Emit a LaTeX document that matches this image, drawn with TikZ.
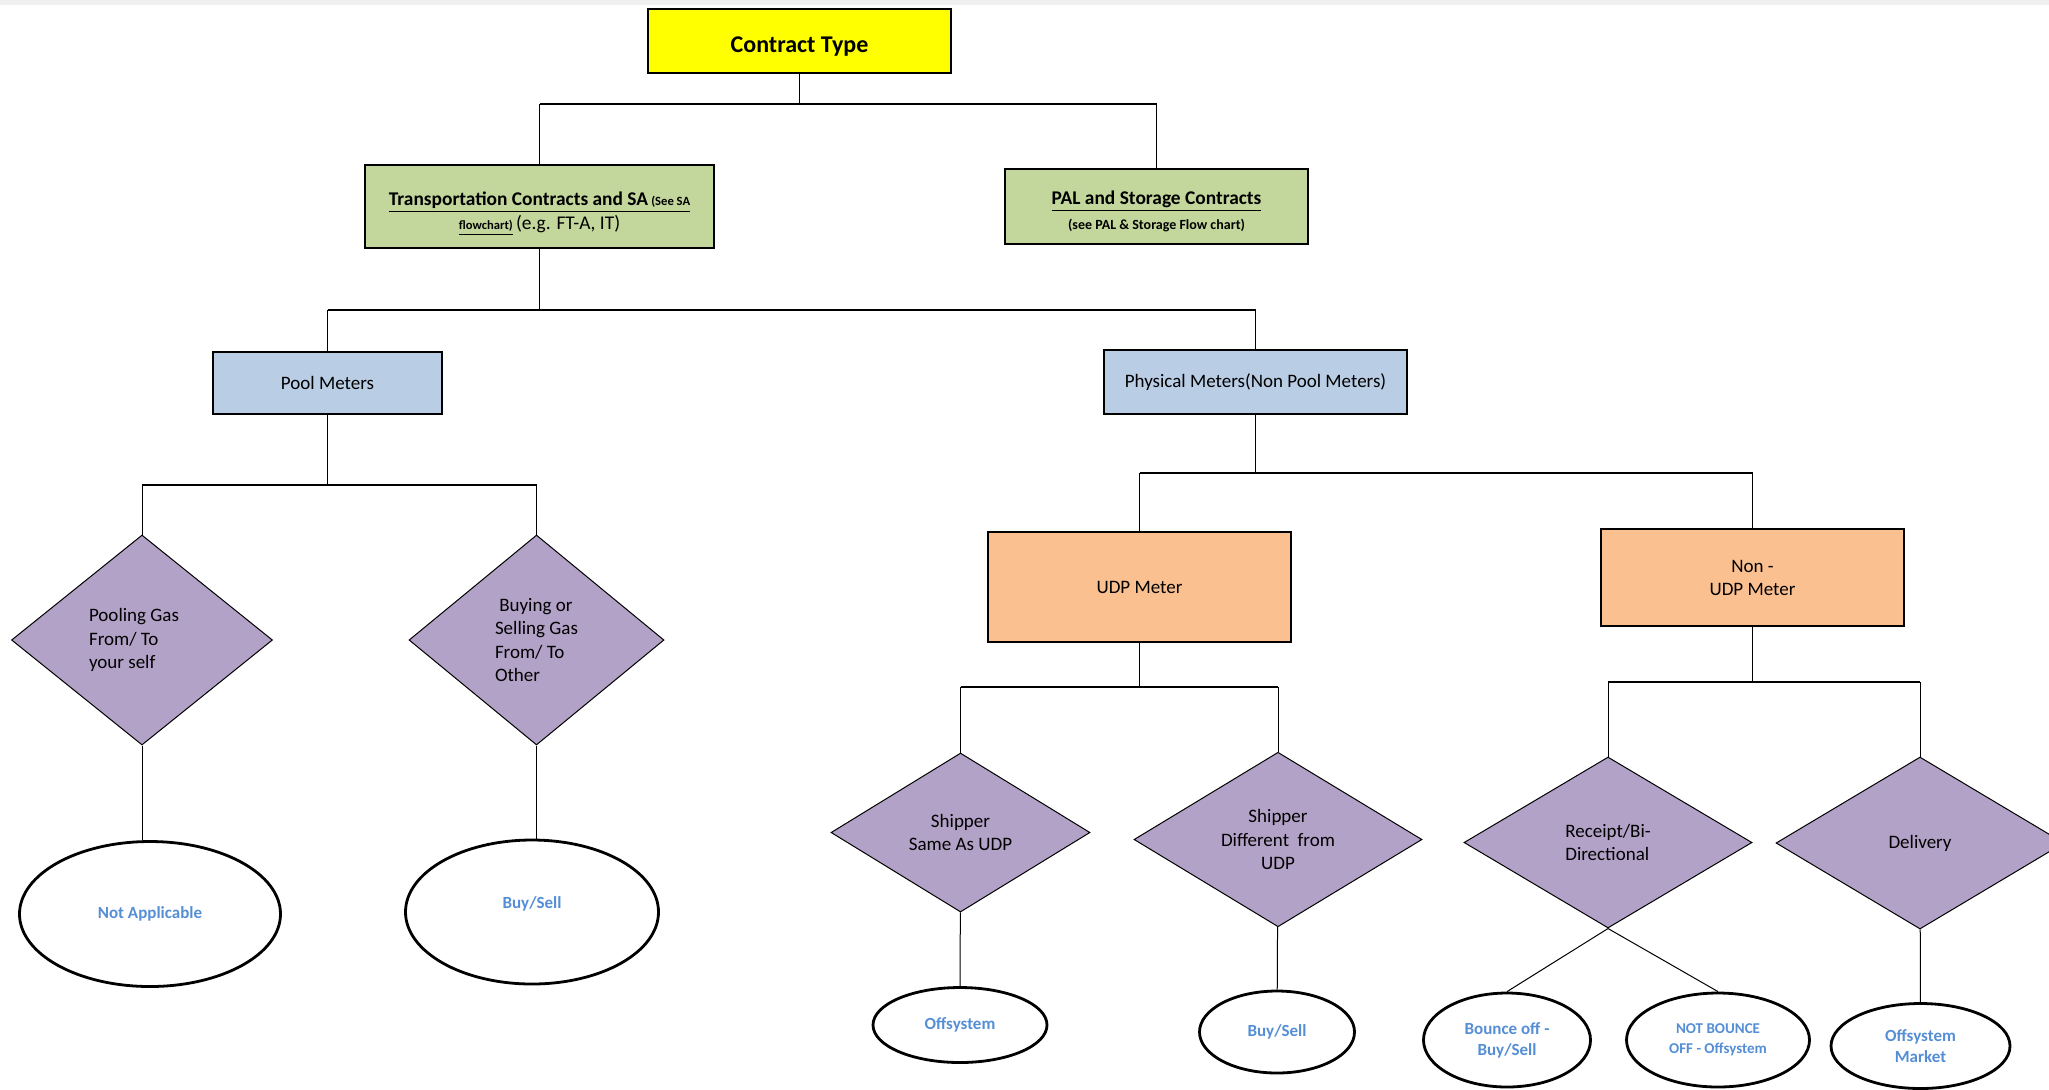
\documentclass[tikz,border=0pt]{standalone}
\usepackage{fontspec}
\setmainfont{Carlito}
\usepackage{xcolor}
\usetikzlibrary{shapes.geometric}
\definecolor{ctyellow}{RGB}{255,255,0}
\definecolor{ctgreen}{RGB}{195,214,155}
\definecolor{ctblue}{RGB}{185,205,229}
\definecolor{ctorange}{RGB}{250,192,144}
\definecolor{ctpurple}{RGB}{179,162,199}
\definecolor{cttext}{RGB}{85,142,213}

\begin{document}
\begin{tikzpicture}[x=0.5pt,y=-0.5pt,
 box/.style={draw,line width=0.6pt,inner sep=2pt,align=center,font=\fontsize{9.5}{11.5}\selectfont},
 choice/.style={diamond,draw,fill=ctpurple,line width=0.5pt,inner sep=0pt,align=center,font=\fontsize{9.5}{11.8}\selectfont},
 result/.style={ellipse,draw,line width=1.4pt,inner sep=0pt,align=center,text=cttext,font=\fontsize{8.5}{10.5}\selectfont\bfseries},
 link/.style={line width=0.5pt},
 bus/.style={line width=0.9pt}]
 \useasboundingbox (0,0) rectangle (2049,1089);
 \clip (0,0) rectangle (2049,1089);
 \fill[black!6] (0,0) rectangle (2049,5);

 \node[box,fill=ctyellow,minimum width=151.5pt,minimum height=32pt,font=\fontsize{12}{14}\selectfont\bfseries] (ct) at (799.5,41) {\rule{0pt}{13pt}Contract Type};
 \node[box,fill=ctgreen,minimum width=174.5pt,minimum height=41.5pt,font=\fontsize{9.7}{12}\selectfont] (tr) at (539.5,206.5)
  {\rule{0pt}{14pt}\underline{\textbf{Transportation Contracts and SA}\,{\fontsize{6.3}{7}\selectfont\textbf{(See SA}}}\\
   \underline{{\fontsize{6.3}{7}\selectfont\textbf{flowchart)}}}\,(e.g. FT-A, IT)};
 \node[box,fill=ctgreen,minimum width=151.5pt,minimum height=37.5pt,font=\fontsize{9.7}{12.5}\selectfont] (pal) at (1156.5,206.5)
  {\rule{0pt}{11.5pt}\underline{\textbf{PAL and Storage Contracts}}\\
   {\fontsize{7}{8}\selectfont\textbf{(see PAL \& Storage Flow chart)}}};

 \node[box,fill=ctblue,minimum width=114.5pt,minimum height=31pt] (pool) at (327.5,383) {Pool Meters};
 \node[box,fill=ctblue,minimum width=151.5pt,minimum height=32pt] (phys) at (1255.5,382) {Physical Meters(Non Pool Meters)};
 \node[box,fill=ctorange,minimum width=151.5pt,minimum height=55pt] (udp) at (1139.5,587) {UDP Meter};
 \node[box,fill=ctorange,minimum width=151.5pt,minimum height=48.5pt] (nudp) at (1752.5,577.5) {Non -\\UDP Meter};

 \node[choice,minimum width=130.5pt,minimum height=105pt,align=left] (pself) at (142,640) {Pooling Gas\hspace*{8pt}\\From/ To\\your self};
 \node[choice,minimum width=127.5pt,minimum height=105pt,align=left] (pother) at (536.5,640) {~Buying or\\Selling Gas\hspace*{8pt}\\From/ To\\Other};
 \node[choice,minimum width=129.5pt,minimum height=79.5pt] (same) at (960.5,832.5) {Shipper\\Same As UDP};
 \node[choice,minimum width=144pt,minimum height=85.5pt] (diff) at (1278,839.5) {Shipper\\Different~ from\\UDP};
 \node[choice,minimum width=144pt,minimum height=85.5pt,align=left] (rcpt) at (1608,842.5) {Receipt/Bi-\\Directional};
 \node[choice,minimum width=144pt,minimum height=86pt] (dlv) at (1920,843) {Delivery};

 \node[result,minimum width=130.5pt,minimum height=72.5pt] (na) at (150,914) {Not Applicable};
 \node[result,minimum width=126.5pt,minimum height=72pt] (bs1) at (532,912) {Buy/Sell\\[-1pt]~};
 \node[result,minimum width=87pt,minimum height=37.5pt] (offs) at (960,1025) {Offsystem};
 \node[result,minimum width=77.5pt,minimum height=41pt] (bs2) at (1277,1032) {Buy/Sell};
 \node[result,minimum width=83.5pt,minimum height=47pt] (bounce) at (1507,1040) {Bounce off -\\Buy/Sell};
 \node[result,minimum width=91.5pt,minimum height=47pt,font=\fontsize{7.5}{10}\selectfont\bfseries] (nbounce) at (1718,1040) {NOT BOUNCE\\OFF - Offsystem};
 \node[result,minimum width=89.5pt,minimum height=42.5pt] (offm) at (1920.5,1046) {Offsystem\\Market};

 \coordinate (b1) at (0,104);
 \coordinate (b2) at (0,310);
 \coordinate (b3) at (0,485);
 \coordinate (b4) at (0,473);
 \coordinate (b5) at (0,687);
 \coordinate (b6) at (0,682);

 \draw[link] (ct) -- (ct |- b1);
 \draw[bus] (tr.north |- b1) -- (pal.north |- b1);
 \draw[link] (tr.north |- b1) -- (tr.north);
 \draw[link] (pal.north |- b1) -- (pal.north);

 \draw[link] (tr) -- (tr |- b2);
 \draw[bus] (pool.north |- b2) -- (phys.north |- b2);
 \draw[link] (pool.north |- b2) -- (pool.north);
 \draw[link] (phys.north |- b2) -- (phys.north);

 \draw[link] (pool) -- (pool |- b3);
 \draw[bus] (pself.north |- b3) -- (pother.north |- b3);
 \draw[link] (pself.north |- b3) -- (pself.north);
 \draw[link] (pother.north |- b3) -- (pother.north);

 \draw[link] (phys) -- (phys |- b4);
 \draw[bus] (udp.north |- b4) -- (nudp.north |- b4);
 \draw[link] (udp.north |- b4) -- (udp.north);
 \draw[link] (nudp.north |- b4) -- (nudp.north);

 \draw[link] (udp) -- (udp |- b5);
 \draw[bus] (same.north |- b5) -- (diff.north |- b5);
 \draw[link] (same.north |- b5) -- (same.north);
 \draw[link] (diff.north |- b5) -- (diff.north);

 \draw[link] (nudp) -- (nudp |- b6);
 \draw[bus] (rcpt.north |- b6) -- (dlv.north |- b6);
 \draw[link] (rcpt.north |- b6) -- (rcpt.north);
 \draw[link] (dlv.north |- b6) -- (dlv.north);

 \draw[link] (pself.south) -- (pself.south |- na.north);
 \draw[link] (pother.south) -- (pother.south |- bs1.north);
 \draw[link] (same) -- (offs);
 \draw[link] (diff) -- (bs2);
 \draw[link] (rcpt.south) -- (bounce.north);
 \draw[link] (rcpt.south) -- (nbounce.north);
 \draw[link] (dlv) -- (offm);
\end{tikzpicture}
\end{document}
